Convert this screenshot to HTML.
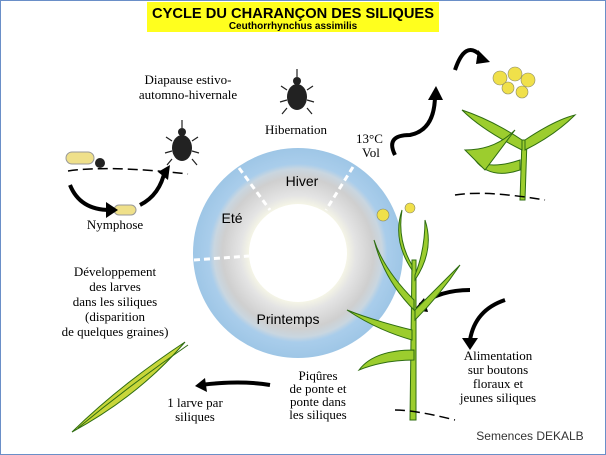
<!DOCTYPE html>
<html><head><meta charset="utf-8"><style>
html,body{margin:0;padding:0;background:#fff}
svg{display:block}
text{font-family:"Liberation Serif",serif;font-size:13px;fill:#000}
.s{font-family:"Liberation Sans",sans-serif}
</style></head><body>
<svg width="606" height="455" viewBox="0 0 606 455" xmlns="http://www.w3.org/2000/svg">
<defs>
<radialGradient id="rg" cx="298" cy="253" r="105" gradientUnits="userSpaceOnUse">
<stop offset="0.46" stop-color="#f6f6e6"/>
<stop offset="0.55" stop-color="#e4e4e4"/>
<stop offset="0.72" stop-color="#cfcfcf"/>
<stop offset="0.8" stop-color="#c9d6e0"/>
<stop offset="0.85" stop-color="#a9cdeb"/>
<stop offset="1" stop-color="#9ec6e6"/>
</radialGradient>
</defs>
<rect x="0.5" y="0.5" width="605" height="454" fill="#fff" stroke="#6a8fc8"/>
<rect x="147" y="2" width="292" height="30" fill="#ffff1e"/>
<text x="293" y="18" text-anchor="middle" class="s" style="font-size:15px;font-weight:bold" textLength="282" lengthAdjust="spacingAndGlyphs">CYCLE DU CHARANÇON DES SILIQUES</text>
<text x="293" y="29" text-anchor="middle" class="s" style="font-size:10px;font-weight:bold">Ceuthorrhynchus assimilis</text>
<circle cx="298" cy="253" r="105" fill="url(#rg)"/>
<circle cx="298" cy="253" r="49" fill="#fff"/>
<g stroke="#fff" stroke-width="3" stroke-dasharray="6,4">
<line x1="194" y1="260" x2="249" y2="256"/>
<line x1="239" y1="168" x2="270" y2="210"/>
<line x1="353" y1="167" x2="326" y2="210"/>
</g>
<text x="302" y="186" text-anchor="middle" class="s" style="font-size:14px">Hiver</text>
<text x="232" y="223" text-anchor="middle" class="s" style="font-size:14px">Eté</text>
<text x="288" y="324" text-anchor="middle" class="s" style="font-size:14px">Printemps</text>
<text x="188" y="84" text-anchor="middle">Diapause estivo-</text>
<text x="188" y="99" text-anchor="middle">automno-hivernale</text>
<text x="296" y="134" text-anchor="middle">Hibernation</text>
<text x="356" y="143">13°C</text>
<text x="362" y="157">Vol</text>
<text x="115" y="229" text-anchor="middle">Nymphose</text>
<text x="115" y="276" text-anchor="middle">Développement</text>
<text x="115" y="291" text-anchor="middle">des larves</text>
<text x="115" y="306" text-anchor="middle">dans les siliques</text>
<text x="115" y="321" text-anchor="middle">(disparition</text>
<text x="115" y="336" text-anchor="middle">de quelques graines)</text>
<text x="318" y="380" text-anchor="middle">Piqûres</text>
<text x="318" y="393" text-anchor="middle">de ponte et</text>
<text x="318" y="406" text-anchor="middle">ponte dans</text>
<text x="318" y="419" text-anchor="middle">les siliques</text>
<text x="498" y="360" text-anchor="middle">Alimentation</text>
<text x="498" y="374" text-anchor="middle">sur boutons</text>
<text x="498" y="388" text-anchor="middle">floraux et</text>
<text x="498" y="402" text-anchor="middle">jeunes siliques</text>
<text x="195" y="407" text-anchor="middle">1 larve par</text>
<text x="195" y="421" text-anchor="middle">siliques</text>
<text x="530" y="440" text-anchor="middle" class="s" style="font-size:12px;fill:#333">Semences DEKALB</text>
<g fill="#222">
<ellipse cx="297" cy="97" rx="10" ry="13"/><circle cx="297" cy="81" r="4"/>
<ellipse cx="182" cy="148" rx="10" ry="13"/><circle cx="182" cy="132" r="4"/>
</g>
<g stroke="#222" stroke-width="1.2" fill="none">
<path d="M287 90l-6-4M287 100l-7 2M287 108l-5 6M307 90l6-4M307 100l7 2M307 108l5 6M297 77v-8"/>
<path d="M172 141l-6-4M172 151l-7 2M172 159l-5 6M192 141l6-4M192 151l7 2M192 159l5 6M182 128v-8"/>
</g>
<path d="M68 171q40 -6 120 3" stroke="#000" fill="none" stroke-width="1.5" stroke-dasharray="10,5"/>
<rect x="66" y="152" width="28" height="12" rx="6" fill="#efe08a" stroke="#999"/>
<rect x="114" y="205" width="22" height="10" rx="5" fill="#efe08a" stroke="#999"/>
<circle cx="100" cy="163" r="5" fill="#222"/>
<g stroke="#000" stroke-width="4" fill="none">
<path d="M70 185q10 25 40 25"/>
<path d="M140 205q20 -10 25 -35"/>
<path d="M395 155q-10 -20 15 -20q25 -5 25 -40"/>
<path d="M455 70q10 -30 25 -15"/>
<path d="M470 290q-30 0 -50 15"/>
<path d="M505 300q-30 10 -35 40"/>
<path d="M270 385q-30 -5 -70 0"/>
</g>
<g fill="#000">
<polygon points="106,202 118,210 106,218"/>
<polygon points="158,172 170,165 168,180"/>
<polygon points="428,100 436,86 443,100"/>
<polygon points="478,50 490,62 476,64"/>
<polygon points="424,298 414,310 428,312"/>
<polygon points="462,338 470,350 478,338"/>
<polygon points="205,378 195,386 207,392"/>
</g>
<g stroke="#2f6d12" stroke-width="1" fill="#9ccd2e">
<path d="M410 420 L412 260 L416 260 L416 420 Z"/>
<path d="M412 330 q-40 -10 -65 -20 q30 20 65 30z"/>
<path d="M414 300 q-30 -30 -40 -60 q10 40 40 70z"/>
<path d="M414 350 q-40 0 -55 20 q25 -10 55 -10z"/>
<path d="M415 310 q30 -30 45 -45 q-20 30 -45 55z"/>
<path d="M415 280 q20 -30 10 -60 q0 30 -10 55z"/>
<path d="M412 270 q-20 -30 -10 -60 q-5 30 10 55z"/>
<path d="M520 200 L522 140 L527 140 L525 200z"/>
<path d="M522 140 q-30 -20 -60 -30 q20 20 60 40z"/>
<path d="M525 140 q30 -20 50 -25 q-20 20 -50 35z"/>
<path d="M520 160 q-30 10 -45 0 q15 20 45 10z"/>
<path d="M465 150 q30 0 50 -20 l-30 40z"/>
</g>
<g fill="#f0e04a" stroke="#886" stroke-width="0.6">
<circle cx="500" cy="78" r="7"/><circle cx="515" cy="74" r="7"/><circle cx="528" cy="80" r="7"/>
<circle cx="508" cy="88" r="6"/><circle cx="522" cy="92" r="6"/><circle cx="383" cy="215" r="6"/><circle cx="410" cy="208" r="5"/>
</g>
<path d="M395 410q20 0 60 10" stroke="#000" fill="none" stroke-width="1.5" stroke-dasharray="10,5"/>
<path d="M455 195q30 -5 90 5" stroke="#000" fill="none" stroke-width="1.5" stroke-dasharray="10,5"/>
<path d="M72 432 Q120 385 185 342 Q140 395 72 432z" fill="#c8d63a" stroke="#2f6d12"/>
<path d="M78 428 Q130 385 188 345" fill="none" stroke="#2f6d12"/>
</svg>
</body></html>
